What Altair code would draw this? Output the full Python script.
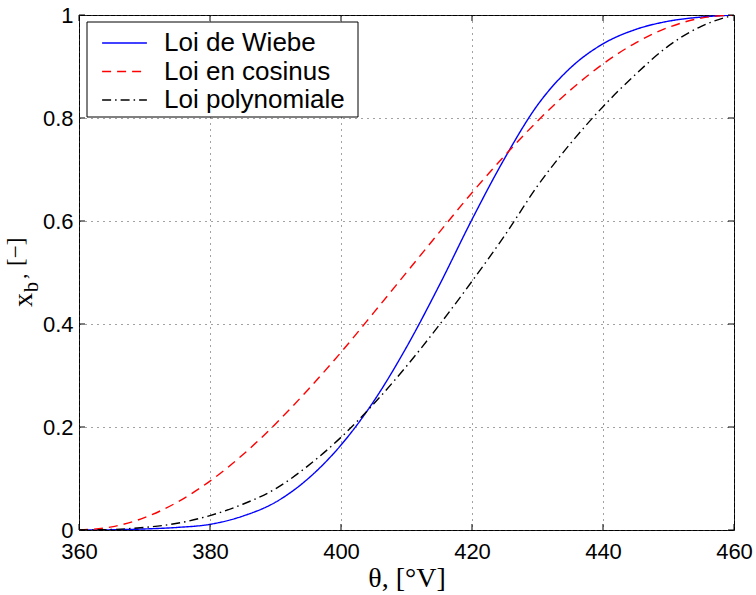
import altair as alt
import pandas as pd

# ---- data ----
theta = [360, 365, 370, 375, 380, 385, 390, 395, 400, 405, 410,
         415, 420, 425, 430, 435, 440, 445, 450, 455, 460]
wiebe = [0.0, 0.0004, 0.002, 0.005, 0.011, 0.027, 0.054, 0.10, 0.165, 0.25, 0.355,
         0.475, 0.603, 0.722, 0.825, 0.897, 0.944, 0.972, 0.988, 0.996, 1.0]
cosinus = [0.0, 0.006, 0.024, 0.054, 0.095, 0.146, 0.206, 0.273, 0.345, 0.422, 0.50,
           0.578, 0.655, 0.727, 0.794, 0.854, 0.905, 0.946, 0.976, 0.994, 1.0]
polynomiale = [0.0, 0.001, 0.005, 0.013, 0.028, 0.05, 0.08, 0.125, 0.18, 0.245, 0.318,
               0.398, 0.483, 0.572, 0.668, 0.75, 0.822, 0.885, 0.94, 0.978, 1.0]

series_names = ["Loi de Wiebe", "Loi en cosinus", "Loi polynomiale"]
series_colors = ["#0000ff", "#ff0000", "#000000"]
series_dash = [[1, 0], [9, 6], [9, 4, 1.5, 4]]

x_ticks = [360, 380, 400, 420, 440, 460]
y_ticks = [0, 0.2, 0.4, 0.6, 0.8, 1]

rows = []
for name, vals in zip(series_names, [wiebe, cosinus, polynomiale]):
    for t, v in zip(theta, vals):
        rows.append({"theta": t, "xb": v, "serie": name})
df = pd.DataFrame(rows)

W, H = 655, 515
SANS = "Liberation Sans"
SERIF = "Liberation Serif"

x_scale = alt.Scale(domain=[360, 460], nice=False, zero=False)
y_scale = alt.Scale(domain=[0, 1], nice=False)

x_axis = alt.Axis(values=x_ticks, title="θ, [°V]", titleFont=SERIF, titleFontSize=28,
                  titleFontWeight="normal", titleColor="black", titleX=W / 2, titleY=56,
                  titleAlign="center", titleBaseline="alphabetic",
                  labelFont=SANS, labelFontSize=22, labelColor="black", labelPadding=11,
                  labelFlush=False, ticks=False, domain=False, format="d",
                  grid=True, gridDash=[1, 5], gridColor="#444444", gridWidth=1)
y_axis = alt.Axis(values=y_ticks, title=None, format="~g",
                  labelFont=SANS, labelFontSize=22, labelColor="black", labelPadding=6,
                  labelFlush=False, ticks=False, domain=False,
                  grid=True, gridDash=[1, 5], gridColor="#444444", gridWidth=1)

legend = alt.Legend(orient="none", legendX=30.5, legendY=13, title=None,
                    symbolType="M-1.6,0H1.6", symbolSize=784, symbolStrokeWidth=1.4,
                    symbolFillColor="transparent",
                    labelFont=SANS, labelFontSize=26, labelColor="black",
                    labelOffset=24.5, padding=0, rowPadding=0.5, symbolOffset=0,
                    labelLimit=400)

lines = alt.Chart(df).mark_line(strokeWidth=1.4, interpolate="monotone", clip=True).encode(
    x=alt.X("theta:Q", scale=x_scale, axis=x_axis),
    y=alt.Y("xb:Q", scale=y_scale, axis=y_axis),
    color=alt.Color("serie:N", scale=alt.Scale(domain=series_names, range=series_colors),
                    legend=legend),
    strokeDash=alt.StrokeDash("serie:N", scale=alt.Scale(domain=series_names, range=series_dash),
                              legend=legend),
    order=alt.Order("theta:Q"),
)

one = pd.DataFrame({"k": [0]})

legend_box = alt.Chart(one).mark_rect(fill="white", stroke="black", strokeWidth=1).encode(
    x=alt.value(8), x2=alt.value(279), y=alt.value(7), y2=alt.value(102)
)

xt = pd.DataFrame({"theta": x_ticks})
yt = pd.DataFrame({"xb": y_ticks})
tick_len = 6
xticks_bottom = alt.Chart(xt).mark_rule(color="black", strokeWidth=1).encode(
    x=alt.X("theta:Q", scale=x_scale, axis=x_axis), y=alt.value(H), y2=alt.value(H - tick_len))
xticks_top = alt.Chart(xt).mark_rule(color="black", strokeWidth=1).encode(
    x=alt.X("theta:Q", scale=x_scale, axis=x_axis), y=alt.value(0), y2=alt.value(tick_len))
yticks_left = alt.Chart(yt).mark_rule(color="black", strokeWidth=1).encode(
    y=alt.Y("xb:Q", scale=y_scale, axis=y_axis), x=alt.value(0), x2=alt.value(tick_len))
yticks_right = alt.Chart(yt).mark_rule(color="black", strokeWidth=1).encode(
    y=alt.Y("xb:Q", scale=y_scale, axis=y_axis), x=alt.value(W), x2=alt.value(W - tick_len))

# y axis title "x_b, [−]" built from pieces (subscript)
def ytxt(txt, size, bx, sy):
    return alt.Chart(one).mark_text(angle=270, align="left", baseline="alphabetic",
                                    font=SERIF, fontSize=size, color="black").encode(
        x=alt.value(bx), y=alt.value(sy), text=alt.value(txt))

ytitle = [
    ytxt("x", 28, -47, 292),
    ytxt("b", 20, -41, 277),
    ytxt(",", 22, -53, 264),
    ytxt("[−]", 23, -56, 251),
]

chart = alt.layer(lines, legend_box, xticks_bottom, xticks_top, yticks_left, yticks_right,
                  *ytitle).properties(
    width=W, height=H,
    autosize=alt.AutoSizeParams(type="none"),
    padding={"left": 79, "top": 15, "right": 22, "bottom": 65},
    background="white",
).configure_view(stroke="black", strokeWidth=1)

chart.save("out.html", embed_options={"renderer": "svg", "actions": False})
